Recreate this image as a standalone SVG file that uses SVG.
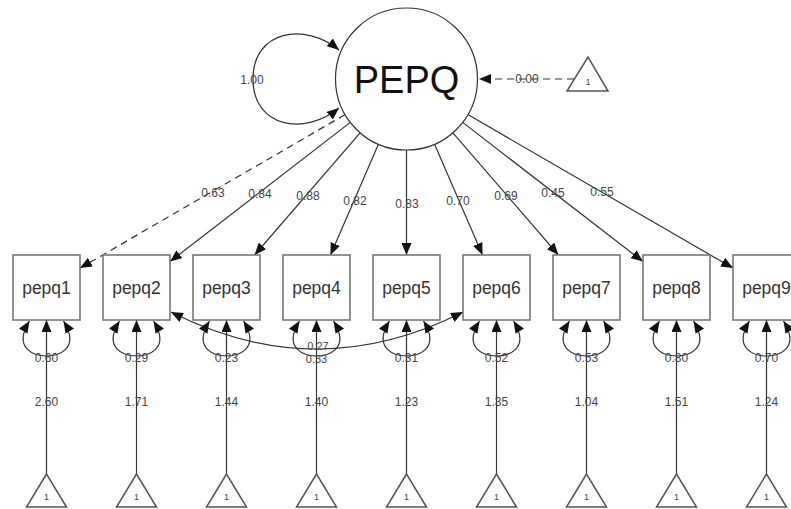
<svg xmlns="http://www.w3.org/2000/svg" width="791" height="509" viewBox="0 0 791 509">
<defs>
<style>
.lbl{font-family:"Liberation Sans",Arial,sans-serif;font-size:12px;fill:#444;text-anchor:middle}
.sm{font-size:11px}
.box{fill:#fff;stroke:#777;stroke-width:1.6}
.btx{font-family:"Liberation Sans",Arial,sans-serif;font-size:17.5px;fill:#333;text-anchor:middle}
.tri{fill:#fff;stroke:#555;stroke-width:1.5}
.one{font-family:"Liberation Sans",Arial,sans-serif;font-size:9px;fill:#444;text-anchor:middle}
.e{fill:none;stroke:#333;stroke-width:1.2}
.ea{fill:none;stroke:#333;stroke-width:1.2;marker-end:url(#ah)}
.eb{fill:none;stroke:#333;stroke-width:1.2;marker-start:url(#ah);marker-end:url(#ah)}
.dash{stroke-dasharray:7,5}
</style>
<marker id="ah" viewBox="0 0 12 10" refX="12" refY="5" markerWidth="12" markerHeight="10" markerUnits="userSpaceOnUse" orient="auto-start-reverse">
<path d="M0,0 L12,5 L0,10 z" fill="#111"/>
</marker>
</defs>
<rect width="791" height="509" fill="#fff"/>
<g id="connectors">
<path class="ea dash" d="M345.1,114.6 L80,268.1"/>
<path class="ea" d="M350.3,122.4 L170,261.6"/>
<path class="ea" d="M360.1,132.8 L254.6,255"/>
<path class="ea" d="M378.4,144.2 L330.5,255"/>
<path class="ea" d="M406.5,150 L406.5,255"/>
<path class="ea" d="M434.6,144.2 L482.5,255"/>
<path class="ea" d="M452.9,132.8 L558.4,255"/>
<path class="ea" d="M462.7,122.4 L643,261.6"/>
<path class="ea" d="M467.9,114.6 L733,268.1"/>
<path class="eb" d="M339,50 C305,22 253,30 253,79 C253,128 305,136 339,108"/>
<path class="ea dash" d="M574,79 L479,79"/>
<path class="eb" d="M171,312 Q317,386 463,312"/>
<g id="resid">
<path class="eb" d="M29.5,321 C11.5,350 36.5,356 46.5,356 C56.5,356 81.5,350 63.5,321"/>
<path class="eb" d="M119.5,321 C101.5,350 126.5,356 136.5,356 C146.5,356 171.5,350 153.5,321"/>
<path class="eb" d="M209.5,321 C191.5,350 216.5,356 226.5,356 C236.5,356 261.5,350 243.5,321"/>
<path class="eb" d="M299.5,321 C281.5,350 306.5,356 316.5,356 C326.5,356 351.5,350 333.5,321"/>
<path class="eb" d="M389.5,321 C371.5,350 396.5,356 406.5,356 C416.5,356 441.5,350 423.5,321"/>
<path class="eb" d="M479.5,321 C461.5,350 486.5,356 496.5,356 C506.5,356 531.5,350 513.5,321"/>
<path class="eb" d="M569.5,321 C551.5,350 576.5,356 586.5,356 C596.5,356 621.5,350 603.5,321"/>
<path class="eb" d="M659.5,321 C641.5,350 666.5,356 676.5,356 C686.5,356 711.5,350 693.5,321"/>
<path class="eb" d="M749.5,321 C731.5,350 756.5,356 766.5,356 C776.5,356 801.5,350 783.5,321"/>
</g>
<g id="means">
<path class="ea" d="M46.5,474 L46.5,320"/>
<path class="ea" d="M136.5,474 L136.5,320"/>
<path class="ea" d="M226.5,474 L226.5,320"/>
<path class="ea" d="M316.5,474 L316.5,320"/>
<path class="ea" d="M406.5,474 L406.5,320"/>
<path class="ea" d="M496.5,474 L496.5,320"/>
<path class="ea" d="M586.5,474 L586.5,320"/>
<path class="ea" d="M676.5,474 L676.5,320"/>
<path class="ea" d="M766.5,474 L766.5,320"/>
</g>
<g id="edge-labels">
<text class="lbl" x="213" y="197">0.63</text>
<text class="lbl" x="260" y="198">0.84</text>
<text class="lbl" x="308" y="200">0.88</text>
<text class="lbl" x="355" y="205">0.82</text>
<text class="lbl" x="407" y="208">0.83</text>
<text class="lbl" x="458" y="205">0.70</text>
<text class="lbl" x="506" y="200">0.69</text>
<text class="lbl" x="553" y="197">0.45</text>
<text class="lbl" x="602" y="196">0.55</text>
<text class="lbl" x="252" y="84">1.00</text>
<text class="lbl" x="527" y="83">0.00</text>
<text class="lbl sm" x="318" y="350">0.27</text>
<text class="lbl" x="46.5" y="362">0.60</text>
<text class="lbl" x="136.5" y="362">0.29</text>
<text class="lbl" x="226.5" y="362">0.23</text>
<text class="lbl sm" x="316.5" y="363">0.33</text>
<text class="lbl" x="406.5" y="362">0.31</text>
<text class="lbl" x="496.5" y="362">0.52</text>
<text class="lbl" x="586.5" y="362">0.53</text>
<text class="lbl" x="676.5" y="362">0.80</text>
<text class="lbl" x="766.5" y="362">0.70</text>
<text class="lbl" x="46.5" y="406">2.60</text>
<text class="lbl" x="136.5" y="406">1.71</text>
<text class="lbl" x="226.5" y="406">1.44</text>
<text class="lbl" x="316.5" y="406">1.40</text>
<text class="lbl" x="406.5" y="406">1.23</text>
<text class="lbl" x="496.5" y="406">1.35</text>
<text class="lbl" x="586.5" y="406">1.04</text>
<text class="lbl" x="676.5" y="406">1.51</text>
<text class="lbl" x="766.5" y="406">1.24</text>
</g>
</g>
<g id="PEPQ">
<circle cx="406.5" cy="79" r="71" fill="#fff" stroke="#333" stroke-width="1.2"/>
<text x="406.5" y="93" font-family="Liberation Sans, Arial, sans-serif" font-size="38" fill="#111" text-anchor="middle">PEPQ</text>
</g>
<g id="int-PEPQ"><polygon class="tri" points="588,57 567,91 608,91"/><text class="one" x="588" y="85">1</text></g>
<g id="pepq1"><rect class="box" x="13" y="255" width="67" height="65"/><text class="btx" x="46.5" y="294">pepq1</text></g>
<g id="pepq2"><rect class="box" x="103" y="255" width="67" height="65"/><text class="btx" x="136.5" y="294">pepq2</text></g>
<g id="pepq3"><rect class="box" x="193" y="255" width="67" height="65"/><text class="btx" x="226.5" y="294">pepq3</text></g>
<g id="pepq4"><rect class="box" x="283" y="255" width="67" height="65"/><text class="btx" x="316.5" y="294">pepq4</text></g>
<g id="pepq5"><rect class="box" x="373" y="255" width="67" height="65"/><text class="btx" x="406.5" y="294">pepq5</text></g>
<g id="pepq6"><rect class="box" x="463" y="255" width="67" height="65"/><text class="btx" x="496.5" y="294">pepq6</text></g>
<g id="pepq7"><rect class="box" x="553" y="255" width="67" height="65"/><text class="btx" x="586.5" y="294">pepq7</text></g>
<g id="pepq8"><rect class="box" x="643" y="255" width="67" height="65"/><text class="btx" x="676.5" y="294">pepq8</text></g>
<g id="pepq9"><rect class="box" x="733" y="255" width="67" height="65"/><text class="btx" x="766.5" y="294">pepq9</text></g>
<g id="int1"><polygon class="tri" points="46.5,474 26.5,507 66.5,507"/><text class="one" x="46.5" y="500">1</text></g>
<g id="int2"><polygon class="tri" points="136.5,474 116.5,507 156.5,507"/><text class="one" x="136.5" y="500">1</text></g>
<g id="int3"><polygon class="tri" points="226.5,474 206.5,507 246.5,507"/><text class="one" x="226.5" y="500">1</text></g>
<g id="int4"><polygon class="tri" points="316.5,474 296.5,507 336.5,507"/><text class="one" x="316.5" y="500">1</text></g>
<g id="int5"><polygon class="tri" points="406.5,474 386.5,507 426.5,507"/><text class="one" x="406.5" y="500">1</text></g>
<g id="int6"><polygon class="tri" points="496.5,474 476.5,507 516.5,507"/><text class="one" x="496.5" y="500">1</text></g>
<g id="int7"><polygon class="tri" points="586.5,474 566.5,507 606.5,507"/><text class="one" x="586.5" y="500">1</text></g>
<g id="int8"><polygon class="tri" points="676.5,474 656.5,507 696.5,507"/><text class="one" x="676.5" y="500">1</text></g>
<g id="int9"><polygon class="tri" points="766.5,474 746.5,507 786.5,507"/><text class="one" x="766.5" y="500">1</text></g>
</svg>
